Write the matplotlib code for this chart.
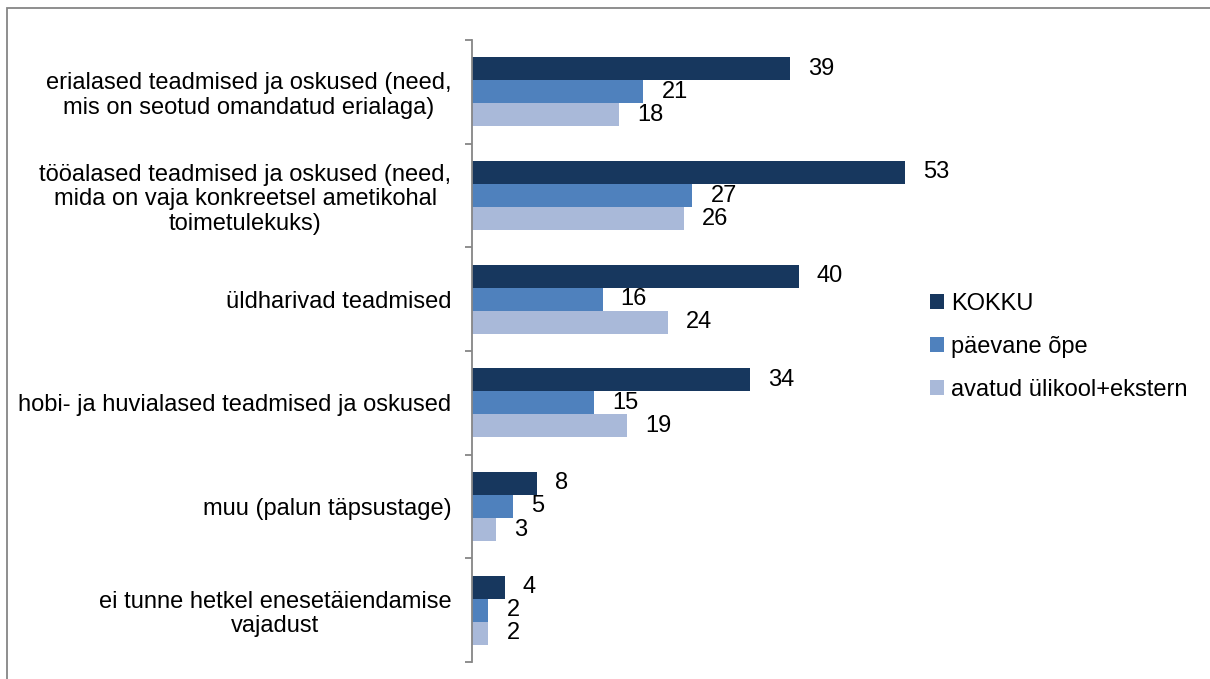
import numpy as np
import matplotlib
matplotlib.use("Agg")
import matplotlib.pyplot as plt
from matplotlib.patches import Rectangle

plt.rcParams["font.family"] = ["Liberation Sans", "DejaVu Sans"]

categories = [
    "erialased teadmised ja oskused (need,\nmis on seotud omandatud erialaga)",
    "tööalased teadmised ja oskused (need,\nmida on vaja konkreetsel ametikohal\ntoimetulekuks)",
    "üldharivad teadmised",
    "hobi- ja huvialased teadmised ja oskused",
    "muu (palun täpsustage)",
    "ei tunne hetkel enesetäiendamise\nvajadust",
]
series_names = ["KOKKU", "päevane õpe", "avatud ülikool+ekstern"]
kokku = [39, 53, 40, 34, 8, 4]
paevane = [21, 27, 16, 15, 5, 2]
avatud = [18, 26, 24, 19, 3, 2]
colors = ["#17375E", "#4F81BD", "#A9B9D9"]
fs = 17

fig = plt.figure(figsize=(12.1, 6.79), dpi=100)
ax = fig.add_axes([472 / 1210, 1 - 662 / 679, 449 / 1210, 622 / 679])

n = len(categories)
y = np.arange(n)
h = 0.222
for i, (vals, name, c) in enumerate(zip([kokku, paevane, avatud], series_names, colors)):
    pos = y + (i - 1) * h
    ax.barh(pos, vals, height=h, color=c, label=name)
    for p, v in zip(pos, vals):
        ax.annotate(str(v), (v, p), xytext=(13, 0), textcoords="offset points",
                    va="center", ha="left", fontsize=fs, color="black",
                    annotation_clip=False)

ax.set_xlim(0, 55)
ax.set_ylim(n - 0.5, -0.5)
ax.set_xticks([])
ax.set_yticks(np.arange(-0.5, n, 1.0))
ax.set_yticklabels([])
ax.tick_params(axis="y", which="major", length=5, color="#868686", width=1.3)
ax.set_yticks(y, minor=True)
ax.set_yticklabels(categories, minor=True, fontsize=fs, multialignment="center",
                   linespacing=1.15)
ax.tick_params(axis="y", which="minor", length=0, pad=15)
for s in ["top", "right", "bottom"]:
    ax.spines[s].set_visible(False)
ax.spines["left"].set_color("#868686")
ax.spines["left"].set_linewidth(1.3)

handles, labels = ax.get_legend_handles_labels()
fig.legend(handles, labels, loc="center left", bbox_to_anchor=(0.751, 0.489),
           frameon=False, fontsize=fs, handlelength=0.6, handleheight=0.6,
           handletextpad=0.3, labelspacing=0.9)

fig.patches.append(Rectangle((7 / 1210, -0.01), 1.02, 1 - 8 / 679 + 0.01,
                             transform=fig.transFigure, fill=False,
                             edgecolor="#868686", linewidth=1.3))

fig.savefig("out.png", dpi=100)
